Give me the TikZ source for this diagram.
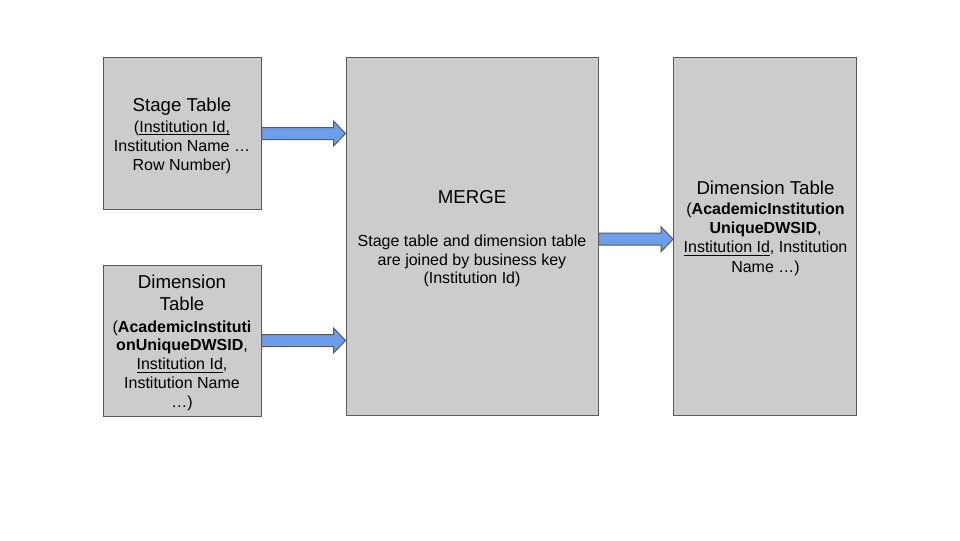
\documentclass[tikz,border=0pt]{standalone}
\usepackage{fontspec}
\setmainfont{Liberation Sans}
\usetikzlibrary{calc}
\definecolor{boxfill}{HTML}{CCCCCC}
\definecolor{boxline}{HTML}{595959}
\definecolor{arrfill}{HTML}{6D9EEB}
\newcommand\ttl[1]{{\fontsize{14}{16}\selectfont #1}}
\newsavebox\ulnbox
\newcommand\uln[1]{\sbox\ulnbox{#1}\rlap{\vrule height -1.3pt depth 2.05pt width \wd\ulnbox}\usebox\ulnbox}
\tikzset{
  tablebox/.style={draw=boxline, fill=boxfill, line width=0.75pt, inner sep=0pt},
  txt/.style={align=center, font=\fontsize{12}{14.1}\selectfont, text=black, inner sep=0pt},
  blockarr/.style={draw=boxline, fill=arrfill, line width=0.75pt, line join=miter}
}
\newcommand\blockarrow[2]{%
  \draw[blockarr] ($(#1)+(0,-6)$) -- ($(#2)+(-12,-6)$) -- ($(#2)+(-12,-12.5)$) -- (#2)
    -- ($(#2)+(-12,12.5)$) -- ($(#2)+(-12,6)$) -- ($(#1)+(0,6)$) -- cycle;}
\begin{document}
\begin{tikzpicture}[x=0.75pt,y=-0.75pt]
\useasboundingbox[fill=white] (0,0) rectangle (960,540);
\node[tablebox, minimum width=158*0.75pt, minimum height=152*0.75pt] (stage) at (182,133) {};
\node[tablebox, minimum width=158*0.75pt, minimum height=151*0.75pt] (dimL) at (182,340.5) {};
\node[tablebox, minimum width=252*0.75pt, minimum height=358*0.75pt] (merge) at (472,236) {};
\node[tablebox, minimum width=183*0.75pt, minimum height=358*0.75pt] (dimR) at (765,236) {};
\node[txt] (stagetext) at (182,135.5)
  {\ttl{Stage Table}\\[1.8pt] (\uln{Institution Id,}\\ Institution Name …\\ Row Number)};
\node[txt] (dimLtext) at (182,343)
  {\ttl{Dimension}\\[2.5pt] \ttl{Table}\\[1.8pt] (\textbf{AcademicInstituti}\\ \textbf{onUniqueDWSID},\\ \uln{Institution Id},\\ Institution Name\\ …)};
\node[txt] (mergetext) at (472,239)
  {\ttl{MERGE}\\[17.8pt] Stage table and dimension table\\ are joined by business key\\ (Institution Id)};
\node[txt] (dimRtext) at (765.5,228.5)
  {\ttl{Dimension Table}\\[0.4pt] (\textbf{AcademicInstitution}\\[0.4pt] \textbf{UniqueDWSID},\\[0.4pt] \uln{Institution Id}, Institution\\[0.4pt] Name …)};
\coordinate (a1s) at ($(stage.east)+(0,0.5)$);
\coordinate (a1e) at (a1s -| merge.west);
\coordinate (a2s) at (dimL.east);
\coordinate (a2e) at (a2s -| merge.west);
\coordinate (a3s) at ($(merge.east)+(0,3.2)$);
\coordinate (a3e) at (a3s -| dimR.west);
\blockarrow{a1s}{a1e}
\blockarrow{a2s}{a2e}
\blockarrow{a3s}{a3e}
\end{tikzpicture}
\end{document}
